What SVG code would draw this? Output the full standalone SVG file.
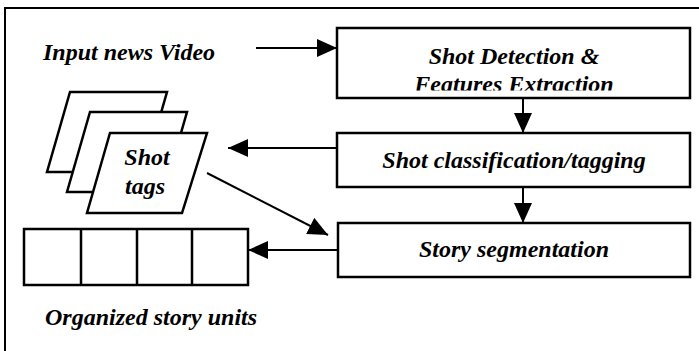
<svg xmlns="http://www.w3.org/2000/svg" width="699" height="351" viewBox="0 0 699 351">
  <defs>
    <marker id="head" viewBox="0 0 20 18" refX="20" refY="9" markerWidth="20" markerHeight="18" markerUnits="userSpaceOnUse" orient="auto">
      <path d="M0,0 L20,9 L0,18 Z" fill="#000"/>
    </marker>
    <clipPath id="clip-b1">
      <rect x="337" y="28" width="353" height="62.5"/>
    </clipPath>
  </defs>
  <style>
    .frame { fill: none; stroke: #000; stroke-width: 2; }
    .box { fill: #fff; stroke: #000; stroke-width: 2.5; }
    .sheet { fill: #fff; stroke: #000; stroke-width: 2.5; stroke-linejoin: miter; }
    .link { fill: none; stroke: #000; stroke-width: 2; marker-end: url(#head); }
    text { font-family: "Liberation Serif", "Times New Roman", serif; font-style: italic; font-weight: bold; font-size: 24px; fill: #000; }
    .mid { text-anchor: middle; }
  </style>

  <rect width="699" height="351" fill="#fff"/>

  <!-- outer frame (open to the right and bottom) -->
  <path class="frame" d="M5,351 V8 H699"/>

  <g id="input-label">
    <text x="43" y="60">Input news Video</text>
  </g>

  <g id="shot-detection">
    <rect class="box" x="337" y="28" width="353" height="70"/>
    <text class="mid" x="514" y="64">Shot Detection &amp;</text>
    <text class="mid" x="514" y="92" clip-path="url(#clip-b1)">Features Extraction</text>
  </g>

  <g id="shot-classification">
    <rect class="box" x="337" y="133" width="353" height="54"/>
    <text class="mid" x="514" y="168">Shot classification/tagging</text>
  </g>

  <g id="story-segmentation">
    <rect class="box" x="338" y="223" width="352" height="54"/>
    <text class="mid" x="514" y="257">Story segmentation</text>
  </g>

  <g id="shot-tags">
    <path class="sheet" d="M70,92 H167 L144,172 H47 Z"/>
    <path class="sheet" d="M90,112 H187 L164,192 H67 Z"/>
    <path class="sheet" d="M110,133 H207 L182,213 H87 Z"/>
    <text class="mid" x="147" y="165">Shot</text>
    <text class="mid" x="145" y="194">tags</text>
  </g>

  <g id="story-units">
    <rect class="box" x="24" y="229" width="224" height="56"/>
    <path fill="none" stroke="#000" stroke-width="2.5" d="M81,229 V285 M137,229 V285 M192,229 V285"/>
    <text x="45" y="325">Organized story units</text>
  </g>

  <g id="connectors">
    <line class="link" x1="256" y1="48" x2="337" y2="48"/>
    <line class="link" x1="523" y1="98" x2="523" y2="133"/>
    <line class="link" x1="523" y1="187" x2="523" y2="223"/>
    <line class="link" x1="337" y1="148" x2="228" y2="148"/>
    <line class="link" x1="207" y1="173" x2="328" y2="235"/>
    <line class="link" x1="338" y1="250" x2="248" y2="250"/>
  </g>
</svg>
